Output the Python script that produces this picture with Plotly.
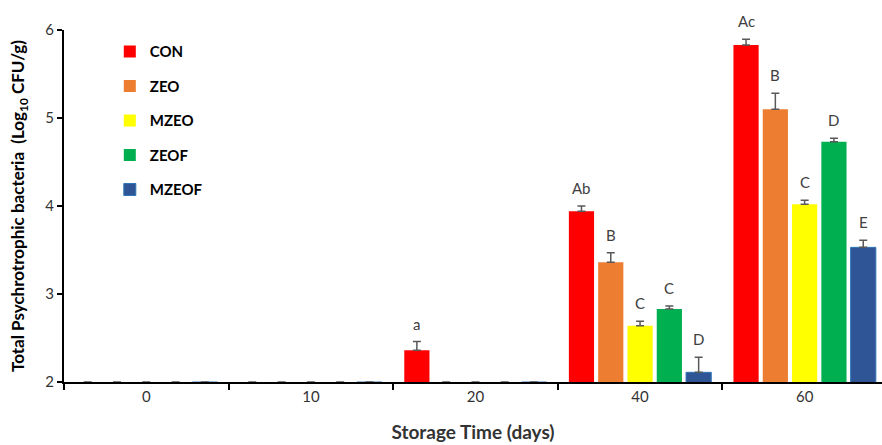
import plotly.graph_objects as go

days = ["0", "10", "20", "40", "60"]
series = ["CON", "ZEO", "MZEO", "ZEOF", "MZEOF"]
colors = ["#FF0000", "#ED7D31", "#FFFF00", "#00B050", "#2F5597"]

con = [2.0, 2.0, 2.36, 3.94, 5.83]
zeo = [2.0, 2.0, 2.0, 3.36, 5.10]
mzeo = [2.0, 2.0, 2.0, 2.64, 4.02]
zeof = [2.0, 2.0, 2.0, 2.83, 4.73]
mzeof = [2.0, 2.0, 2.0, 2.11, 3.53]

con_err = [0, 0, 0.10, 0.06, 0.065]
zeo_err = [0, 0, 0, 0.11, 0.18]
mzeo_err = [0, 0, 0, 0.05, 0.045]
zeof_err = [0, 0, 0, 0.035, 0.04]
mzeof_err = [0, 0, 0, 0.17, 0.08]

con_lbl = ["", "", "a", "Ab", "Ac"]
zeo_lbl = ["", "", "", "B", "B"]
mzeo_lbl = ["", "", "", "C", "C"]
zeof_lbl = ["", "", "", "C", "D"]
mzeof_lbl = ["", "", "", "D", "E"]

values = [con, zeo, mzeo, zeof, mzeof]
errors = [con_err, zeo_err, mzeo_err, zeof_err, mzeof_err]
labels = [con_lbl, zeo_lbl, mzeo_lbl, zeof_lbl, mzeof_lbl]

FONT = "Lato, Carlito, 'Open Sans', sans-serif"
bargap = 0.11
bargroupgap = 0.14

fig = go.Figure()
for j, (name, col, vals, errs) in enumerate(zip(series, colors, values, errors)):
    fig.add_trace(go.Bar(
        x=days, y=vals, name=name, legendgroup=name,
        marker=dict(color=col, line=dict(width=1 if name == "MZEOF" else 0,
                                         color="#2E75B6")),
        error_y=dict(type="data", array=errs, arrayminus=[0] * len(errs),
                     symmetric=False, color="#595959", thickness=1.5, width=4,
                     visible=True),
    ))

n = len(series)
slot = (1 - bargap) / n
annotations = []
for j in range(n):
    for i, d in enumerate(days):
        lbl = labels[j][i]
        if not lbl:
            continue
        xpos = i - (1 - bargap) / 2 + (j + 0.5) * slot
        annotations.append(dict(
            x=xpos, y=values[j][i] + errors[j][i], xref="x", yref="y",
            text=lbl, showarrow=False, yanchor="bottom", yshift=7,
            font=dict(family=FONT, size=15, color="#404040")))

fig.update_layout(
    width=882, height=445,
    margin=dict(l=64, r=0, t=30, b=63),
    paper_bgcolor="white", plot_bgcolor="white",
    barmode="group", bargap=bargap, bargroupgap=bargroupgap,
    font=dict(family=FONT, color="#333333"),
    annotations=annotations,
    legend=dict(x=0.056, y=0.985, xanchor="left", yanchor="top",
                font=dict(family=FONT, size=15, color="black", weight="bold"),
                tracegroupgap=12, bgcolor="rgba(0,0,0,0)", itemwidth=30),
    xaxis=dict(
        type="category", range=[-0.5, 4.47],
        showline=True, linecolor="black", linewidth=2,
        ticks="outside", tickson="boundaries", ticklen=6, tickwidth=2,
        tickcolor="black", showgrid=False,
        tickfont=dict(family=FONT, size=15, color="#333333"),
        title=dict(text="<b>Storage Time (days)</b>", standoff=22,
                   font=dict(family=FONT, size=19, color="#333333")),
    ),
    yaxis=dict(
        range=[2, 6], tickvals=[2, 3, 4, 5, 6],
        showline=True, linecolor="black", linewidth=2,
        ticks="outside", ticklen=5, tickwidth=1.5, tickcolor="black",
        showgrid=False, zeroline=False,
        tickfont=dict(family=FONT, size=15, color="#333333"),
        title=dict(text="<b>Total Psychrotrophic bacteria  (Log<sub>10</sub> CFU/g)</b>",
                   standoff=16,
                   font=dict(family=FONT, size=17, color="black")),
    ),
)

fig.write_html("out.html", config={"displayModeBar": False},
               post_script="document.body.style.margin='0';")
